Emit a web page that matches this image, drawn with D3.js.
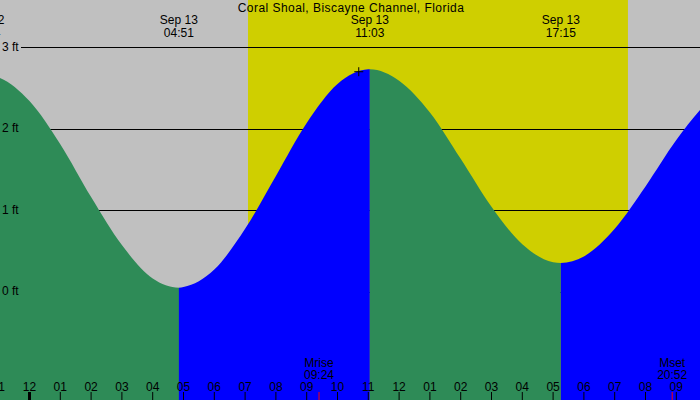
<!DOCTYPE html>
<html><head><meta charset="utf-8">
<script src="https://cdn.jsdelivr.net/npm/d3@7"></script>
<style>
html,body{margin:0;padding:0;background:#c0c0c0;}
svg{display:block;font-family:"Liberation Sans",Arial,sans-serif;}
</style></head>
<body>
<svg id="chart" width="700" height="400"></svg>
<script>
// ---- data (hours relative to 00:00 Sep 13, heights in feet) ----
const title = "Coral Shoal, Biscayne Channel, Florida";
const tideHours = [-2,-1,0,1,2,3,4,5,6,7,8,9,10,11,12,13,14,15,16,17,18,19,20,21,22,23];
const tideFeet  = [2.61,2.63,2.34,1.81,1.16,0.57,0.16,0.055,0.27,0.77,1.42,2.07,2.55,2.729,2.59,2.20,1.63,1.04,0.58,0.36,0.43,0.77,1.29,1.86,2.32,2.58];
const extremeHours = [-1.433, 4.85, 11.05, 17.25];
const extremeFeet  = [2.66, 0.047, 2.73, 0.35];
const extremeDates = ["Sep 12","Sep 13","Sep 13","Sep 13"];
const extremeTimes = ["22:34","04:51","11:03","17:15"];
const sunHours = [7.094, 19.43];           // sunrise 07:06, sunset 19:26
const moonHours = [9.4, 20.867];
const moonNames = ["Mrise","Mset"];
const moonTimes = ["09:24","20:52"];
const hourTicks = [-1,0,1,2,3,4,5,6,7,8,9,10,11,12,13,14,15,16,17,18,19,20,21];
const hourLabels = ["11","12","01","02","03","04","05","06","07","08","09","10","11","12","01","02","03","04","05","06","07","08","09"];
const feetTicks = [0,1,2,3];
const feetLabels = ["0 ft","1 ft","2 ft","3 ft"];
const markerHour = 10.69, markerFeet = 2.70;

// ---- scales ----
const W = 700, H = 400;
const x = d3.scaleLinear().domain([0, 21]).range([29.5, 676.3]);
const y = d3.scaleLinear().domain([0, 3]).range([291.5, 47.3]);

const svg = d3.select("#chart");
const COL = {night:"#c0c0c0", day:"#cfcf00", fall:"#2e8b57", rise:"#0000ff"};

// background
svg.append("rect").attr("width",W).attr("height",H).attr("fill",COL.night);
svg.append("rect").attr("x",x(sunHours[0])).attr("y",0)
  .attr("width",x(sunHours[1])-x(sunHours[0])).attr("height",H).attr("fill",COL.day);

// grid lines
svg.append("g").selectAll("line").data(feetTicks).join("line")
  .attr("x1",21).attr("x2",W).attr("y1",d=>Math.round(y(d))+0.5).attr("y2",d=>Math.round(y(d))+0.5)
  .attr("stroke","#000").attr("stroke-width",1);

// tide area
const pts = tideHours.map((h,i)=>({h, v:tideFeet[i]}))
  .concat(extremeHours.map((h,i)=>({h, v:extremeFeet[i]})))
  .sort((a,b)=>a.h-b.h);
const area = d3.area().x(d=>x(d.h)).y0(H).y1(d=>y(d.v)).curve(d3.curveMonotoneX);
const bounds = [x(-3), x(extremeHours[1]), x(extremeHours[2]), x(extremeHours[3]), x(24)];
const segCols = [COL.fall, COL.rise, COL.fall, COL.rise];
const defs = svg.append("defs");
segCols.forEach((c,i)=>{
  defs.append("clipPath").attr("id","seg"+i).append("rect")
    .attr("x",bounds[i]).attr("y",0).attr("width",bounds[i+1]-bounds[i]).attr("height",H);
  svg.append("path").datum(pts).attr("d",area).attr("fill",c).attr("clip-path",`url(#seg${i})`);
});

// marker
const mx = x(markerHour), my = y(markerFeet);
svg.append("path").attr("d",`M${mx-4.5},${my}H${mx+4.5}M${mx},${my-4.5}V${my+4.5}`)
  .attr("stroke","#000").attr("stroke-width",1).attr("fill","none");

// feet labels
svg.append("g").selectAll("text").data(feetTicks).join("text")
  .attr("x",2).attr("y",d=>y(d)+3.5).attr("font-size",12).attr("fill","#000")
  .text((d,i)=>feetLabels[i]);

// title
svg.append("text").attr("x",351).attr("y",12).attr("text-anchor","middle")
  .attr("font-size",12).attr("letter-spacing","0.45px").text(title);

// extreme labels
const ex = svg.append("g").attr("font-size",12).attr("text-anchor","middle");
extremeHours.forEach((h,i)=>{
  ex.append("text").attr("x",x(h)).attr("y",24).text(extremeDates[i]);
  ex.append("text").attr("x",x(h)).attr("y",36.5).text(extremeTimes[i]);
});

// hour ticks and labels
const ax = svg.append("g");
ax.selectAll("line").data(hourTicks).join("line")
  .attr("x1",d=>x(d)).attr("x2",d=>x(d)).attr("y1",392).attr("y2",H)
  .attr("stroke","#000").attr("stroke-width",d=>d===0?3:1);
ax.selectAll("text").data(hourTicks).join("text")
  .attr("x",d=>x(d)).attr("y",390.5).attr("text-anchor","middle").attr("font-size",12)
  .text((d,i)=>hourLabels[i]);

// moon rise / set
moonHours.forEach((h,i)=>{
  svg.append("line").attr("x1",x(h)).attr("x2",x(h)).attr("y1",392).attr("y2",H)
    .attr("stroke","#ff0000").attr("stroke-width",1);
  svg.append("text").attr("x",x(h)).attr("y",366.5).attr("text-anchor","middle").attr("font-size",12).text(moonNames[i]);
  svg.append("text").attr("x",x(h)).attr("y",378.5).attr("text-anchor","middle").attr("font-size",12).text(moonTimes[i]);
});
</script>
</body></html>
